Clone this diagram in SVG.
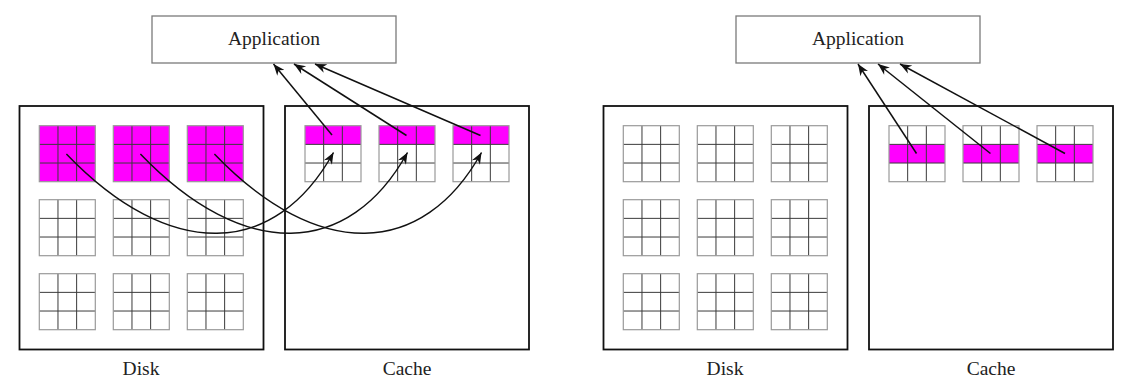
<svg xmlns="http://www.w3.org/2000/svg" xmlns:xlink="http://www.w3.org/1999/xlink" width="1138" height="392" viewBox="0 0 1138 392">
  <style>
    .box { fill: #ffffff; stroke: #111111; stroke-width: 1.8; }
    .app { fill: #ffffff; stroke: #7a7a7a; stroke-width: 1.3; }
    .lbl { font-family: "Liberation Serif", "Times New Roman", serif; font-size: 19.5px; fill: #222222; text-anchor: middle; }
    .outer { fill: none; stroke: #9a9a9a; stroke-width: 1.2; }
    .inner { stroke: #3a3a3a; stroke-width: 1; fill: none; }
    .conn { fill: none; stroke: #111111; stroke-width: 1.5; marker-end: url(#arr); }
    .mag { fill: #ff00ff; }
  </style>
  <defs>
    <marker id="arr" markerUnits="userSpaceOnUse" viewBox="-12 -5 13 10" refX="0" refY="0" markerWidth="13" markerHeight="10" orient="auto">
      <path d="M0,0 L-11.5,-4.6 L-8,0 L-11.5,4.6 Z" fill="#111111"/>
    </marker>
    <g id="lines">
      <path class="inner" d="M18.67,0 V56 M37.33,0 V56 M0,18.67 H56 M0,37.33 H56"/>
      <rect class="outer" x="0" y="0" width="56" height="56"/>
    </g>
    <g id="gw">
      <rect x="0" y="0" width="56" height="56" fill="#ffffff"/>
      <use xlink:href="#lines"/>
    </g>
    <g id="gm">
      <rect class="mag" x="0" y="0" width="56" height="56"/>
      <use xlink:href="#lines"/>
    </g>
    <g id="gtop">
      <rect x="0" y="0" width="56" height="56" fill="#ffffff"/>
      <rect class="mag" x="0" y="0" width="56" height="18.67"/>
      <use xlink:href="#lines"/>
    </g>
    <g id="gmid">
      <rect x="0" y="0" width="56" height="56" fill="#ffffff"/>
      <rect class="mag" x="0" y="18.67" width="56" height="18.67"/>
      <use xlink:href="#lines"/>
    </g>
  </defs>

  <!-- Left diagram -->
  <g id="app-left">
    <rect class="app" x="152" y="16" width="244" height="47"/>
    <text class="lbl" x="274" y="45">Application</text>
  </g>
  <g id="disk-left">
    <rect class="box" x="19.5" y="106" width="244" height="243.5"/>
    <use xlink:href="#gm" x="39.3" y="125.7"/>
    <use xlink:href="#gm" x="113.3" y="125.7"/>
    <use xlink:href="#gm" x="187.3" y="125.7"/>
    <use xlink:href="#gw" x="39.3" y="199.7"/>
    <use xlink:href="#gw" x="113.3" y="199.7"/>
    <use xlink:href="#gw" x="187.3" y="199.7"/>
    <use xlink:href="#gw" x="39.3" y="273.7"/>
    <use xlink:href="#gw" x="113.3" y="273.7"/>
    <use xlink:href="#gw" x="187.3" y="273.7"/>
    <text class="lbl" x="141" y="375">Disk</text>
  </g>
  <g id="cache-left">
    <rect class="box" x="285" y="106" width="244" height="243.5"/>
    <use xlink:href="#gtop" x="305" y="125.7"/>
    <use xlink:href="#gtop" x="379" y="125.7"/>
    <use xlink:href="#gtop" x="453" y="125.7"/>
    <text class="lbl" x="407" y="375">Cache</text>
  </g>

  <!-- Right diagram -->
  <g id="app-right">
    <rect class="app" x="736" y="16" width="244" height="47"/>
    <text class="lbl" x="858" y="45">Application</text>
  </g>
  <g id="disk-right">
    <rect class="box" x="603.5" y="106" width="244" height="243.5"/>
    <use xlink:href="#gw" x="623.3" y="125.7"/>
    <use xlink:href="#gw" x="697.3" y="125.7"/>
    <use xlink:href="#gw" x="771.3" y="125.7"/>
    <use xlink:href="#gw" x="623.3" y="199.7"/>
    <use xlink:href="#gw" x="697.3" y="199.7"/>
    <use xlink:href="#gw" x="771.3" y="199.7"/>
    <use xlink:href="#gw" x="623.3" y="273.7"/>
    <use xlink:href="#gw" x="697.3" y="273.7"/>
    <use xlink:href="#gw" x="771.3" y="273.7"/>
    <text class="lbl" x="725" y="375">Disk</text>
  </g>
  <g id="cache-right">
    <rect class="box" x="869" y="106" width="244" height="243.5"/>
    <use xlink:href="#gmid" x="889" y="125.7"/>
    <use xlink:href="#gmid" x="963" y="125.7"/>
    <use xlink:href="#gmid" x="1037" y="125.7"/>
    <text class="lbl" x="991" y="375">Cache</text>
  </g>

  <g id="connectors">
    <path class="conn" d="M66.4,154 C170,262 275,258 333.5,152.5"/>
    <path class="conn" d="M140.4,154 C244,262 349,258 407.5,152.5"/>
    <path class="conn" d="M214.4,154 C318,262 423,258 481.5,152.5"/>
    <path class="conn" d="M332,135 L273.5,64"/>
    <path class="conn" d="M406.5,135.5 L294,64"/>
    <path class="conn" d="M480.5,135.5 L315,64"/>
    <path class="conn" d="M916.5,153.5 L858,64"/>
    <path class="conn" d="M990.5,153.5 L878,64"/>
    <path class="conn" d="M1065,153.5 L900,64"/>
  </g>
</svg>
